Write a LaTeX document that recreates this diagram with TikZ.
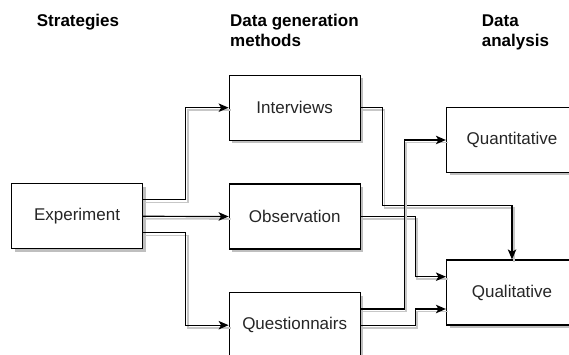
\documentclass[tikz,border=0pt]{standalone}
\usepackage{fontspec}
\setmainfont{Liberation Sans}
\usetikzlibrary{arrows.meta,shadows}
\tikzset{
  box/.style={draw,fill=white,line width=1.2pt,minimum width=131pt,minimum height=65pt,
    inner sep=0pt,text=black!85,font=\fontsize{17}{20}\selectfont,
    drop shadow={shadow xshift=3pt,shadow yshift=-3pt,fill=black,opacity=0.25}},
  head/.style={anchor=base west,align=left,inner sep=0pt,font=\fontsize{17}{20}\selectfont\bfseries},
  link/.style={line width=1.2pt,-{Stealth[length=10pt,width=8.5pt,inset=2.5pt]},
    preaction={draw=black!22,line width=1.6pt,-,transform canvas={xshift=2pt,yshift=-2.5pt}}}
}
\begin{document}
\begin{tikzpicture}[x=1pt,y=-1pt]
\useasboundingbox (0,0) rectangle (569,355);
\node[head] (hstrat) at (36.7,26.7) {Strategies};
\node[head] (hgen) at (230,46.7) {Data generation\\methods};
\node[head] (hana) at (481.7,46.7) {Data\\analysis};
\node[box] (exp) at (77,216.3) {Experiment};
\node[box] (int) at (294.7,107.7) {Interviews};
\node[box] (obs) at (294.7,216.5) {Observation};
\node[box] (que) at (294.7,325.2) {Questionnairs};
\node[box] (quant) at (512,140) {Quantitative};
\node[box] (qual) at (512,292.5) {Qualitative};
\draw[link] ([yshift=16.5pt]exp.east) -- ++(42.6,0) |- (int.west);
\draw[link] (exp.east) -- (obs.west);
\draw[link] ([yshift=-16.5pt]exp.east) -- ++(42.6,0) |- (que.west);
\draw[link] (int.east) -| ++(21.7,98) -| (qual.north);
\draw[link] (obs.east) -- ++(54.3,0) |- ([yshift=15.8pt]qual.west);
\draw[link] ([yshift=16.2pt]que.east) -- ++(43.3,0) |- (quant.west);
\draw[link] (que.east) -- ++(54.3,0) |- ([yshift=-16.5pt]qual.west);
\end{tikzpicture}
\end{document}
